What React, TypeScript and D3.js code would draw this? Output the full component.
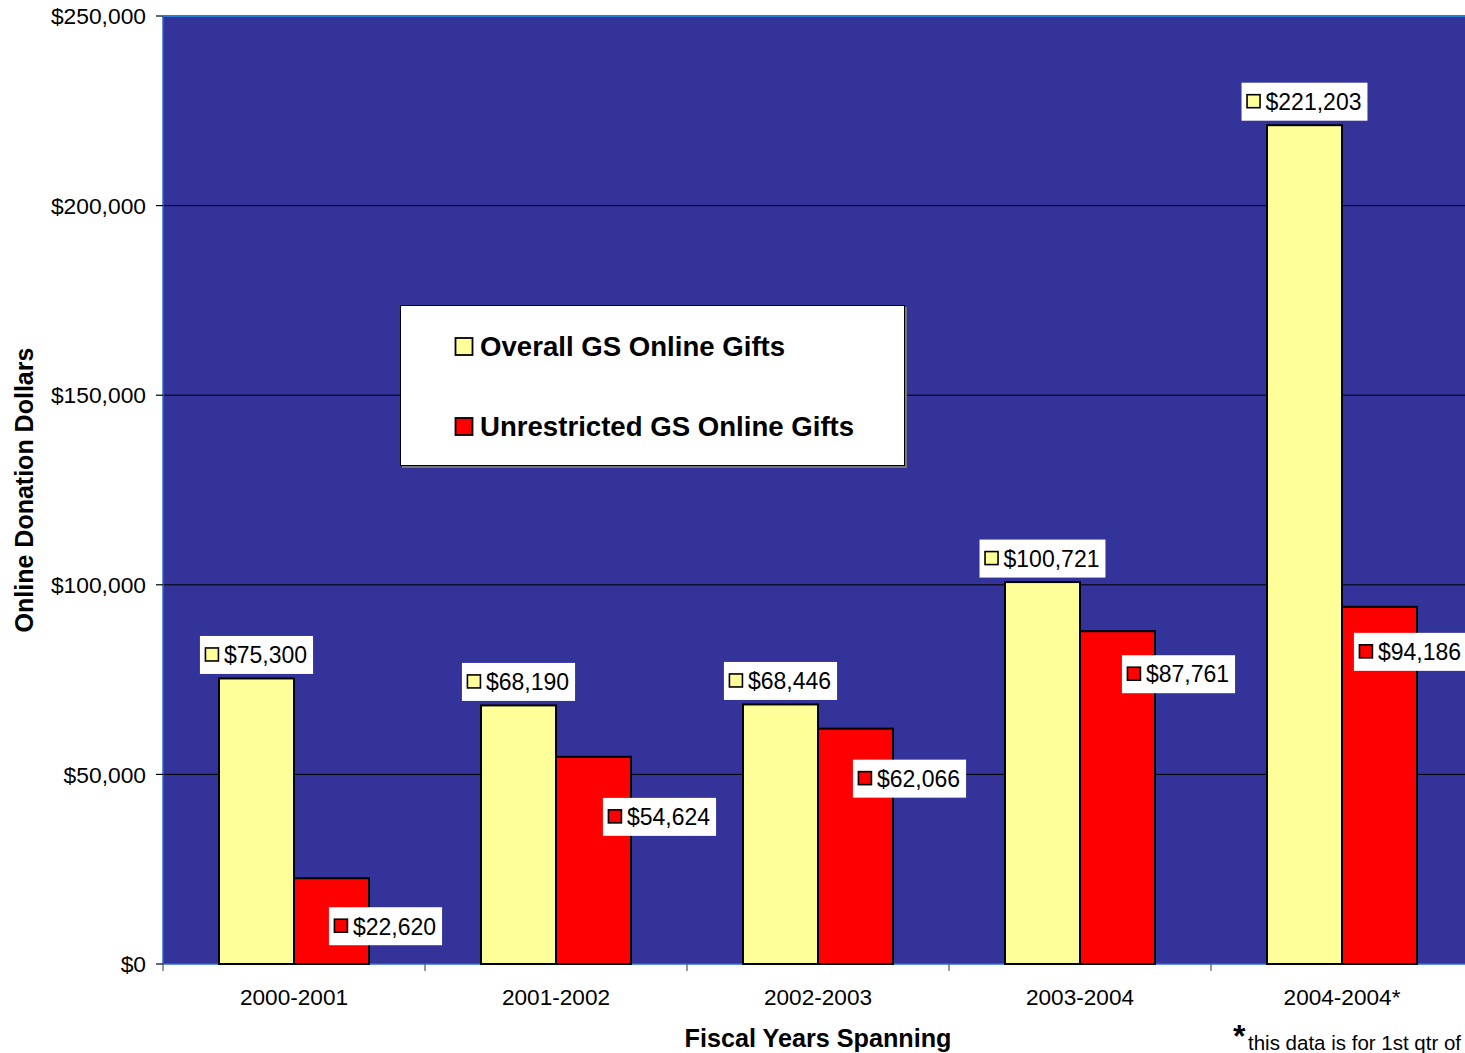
import React from "react";
import * as d3 from "d3";

const categories = ["2000-2001", "2001-2002", "2002-2003", "2003-2004", "2004-2004*"];
const overallGifts = [75300, 68190, 68446, 100721, 221203];
const unrestrictedGifts = [22620, 54624, 62066, 87761, 94186];
const seriesNames = ["Overall GS Online Gifts", "Unrestricted GS Online Gifts"];
const yTicks = [0, 50000, 100000, 150000, 200000, 250000];

// layout config (label nudges for the red series, relative to bar top-center)
const redLabelNudge: [number, number][] = [
  [54, 48],
  [66, 60],
  [54, 50],
  [61, 43],
  [31, 45],
];

const W = 1465;
const H = 1053;
const plotLeft = 163;
const plotTop = 16;
const plotBottom = 964;
const bandW = 262;
const plotRight = plotLeft + bandW * categories.length;

const YELLOW = "#FFFF99";
const RED = "#FF0000";
const BG = "#333399";
const FONT = "Liberation Sans, Arial, sans-serif";

const fmt = (v: number) => "$" + d3.format(",")(v);

function textWidth(s: string, size: number, bold = false) {
  if (typeof document === "undefined") return s.length * size * 0.55;
  const c = document.createElement("canvas").getContext("2d")!;
  c.font = `${bold ? "bold " : ""}${size}px ${FONT}`;
  return c.measureText(s).width;
}

function Label({ cx, cy, text, color }: { cx: number; cy: number; text: string; color: string }) {
  const fs = 23;
  const tw = textWidth(text, fs);
  const boxW = 5 + 14 + 5 + tw + 6;
  const boxH = 38;
  const x0 = cx - boxW / 2;
  const y0 = cy - boxH / 2;
  return (
    <g>
      <rect x={x0} y={y0} width={boxW} height={boxH} fill="#fff" />
      <rect x={x0 + 5.5} y={cy - 7} width={13} height={13} fill={color} stroke="#000" strokeWidth={1.6} />
      <text x={x0 + 24} y={cy} dy="0.36em" fontSize={fs} fontFamily={FONT} fill="#000">
        {text}
      </text>
    </g>
  );
}

export default function App() {
  const x = d3.scaleBand<string>().domain(categories).range([plotLeft, plotRight]).paddingInner(0).paddingOuter(0);
  const sub = d3
    .scaleBand<string>()
    .domain(seriesNames)
    .range([0, x.bandwidth()])
    .paddingInner(0)
    .paddingOuter((x.bandwidth() / 75 - 2) / 2);
  const y = d3.scaleLinear().domain([0, 250000]).range([plotBottom, plotTop]);

  const series = [overallGifts, unrestrictedGifts];
  const colors = [YELLOW, RED];

  return (
    <div style={{ position: "absolute", left: 0, top: 0 }}>
      <svg width={W} height={H} style={{ display: "block", background: "#fff" }}>
        {/* plot area */}
        <rect x={plotLeft} y={plotTop} width={plotRight - plotLeft} height={plotBottom - plotTop} fill={BG} />
        {/* gridlines */}
        {yTicks.slice(1, -1).map((t) => (
          <line key={t} x1={plotLeft} x2={plotRight} y1={y(t)} y2={y(t)} stroke="#000" strokeWidth={1} />
        ))}
        {/* plot border */}
        <line x1={plotLeft} x2={plotRight} y1={plotTop} y2={plotTop} stroke="#2a7ad8" strokeWidth={2} />
        <line x1={plotLeft} x2={plotLeft} y1={plotTop} y2={plotBottom} stroke="#2a6ac8" strokeWidth={1.5} />
        <line x1={plotLeft} x2={plotRight} y1={plotBottom} y2={plotBottom} stroke="#2a6ac8" strokeWidth={1.5} />

        {/* bars */}
        {categories.map((c, i) =>
          series.map((s, k) => {
            const bx = (x(c) ?? 0) + (sub(seriesNames[k]) ?? 0);
            return (
              <rect
                key={c + k}
                x={bx}
                y={y(s[i])}
                width={sub.bandwidth()}
                height={plotBottom - y(s[i])}
                fill={colors[k]}
                stroke="#000"
                strokeWidth={2}
              />
            );
          })
        )}

        {/* y axis ticks and labels */}
        {yTicks.map((t) => (
          <g key={t}>
            <line x1={plotLeft - 7} x2={plotLeft} y1={y(t)} y2={y(t)} stroke="#000" strokeWidth={1.2} />
            <text
              x={146}
              y={y(t)}
              dy="0.36em"
              textAnchor="end"
              fontSize={22.8}
              fontFamily={FONT}
              fill="#000"
            >
              {fmt(t)}
            </text>
          </g>
        ))}

        {/* x axis ticks and labels */}
        {categories.map((c) => (
          <g key={c}>
            <line
              x1={x(c) ?? 0}
              x2={x(c) ?? 0}
              y1={plotBottom}
              y2={plotBottom + 7}
              stroke="#555"
              strokeWidth={1.2}
            />
            <text
              x={(x(c) ?? 0) + x.bandwidth() / 2}
              y={1005}
              textAnchor="middle"
              fontSize={22.6}
              fontFamily={FONT}
              fill="#000"
            >
              {c}
            </text>
          </g>
        ))}

        {/* data labels */}
        {categories.map((c, i) => {
          const cxY = (x(c) ?? 0) + (sub(seriesNames[0]) ?? 0) + sub.bandwidth() / 2;
          const cxR = (x(c) ?? 0) + (sub(seriesNames[1]) ?? 0) + sub.bandwidth() / 2;
          return (
            <g key={"lbl" + c}>
              <Label cx={cxY} cy={y(overallGifts[i]) - 23.5} text={fmt(overallGifts[i])} color={YELLOW} />
              <Label
                cx={cxR + redLabelNudge[i][0]}
                cy={y(unrestrictedGifts[i]) + redLabelNudge[i][1]}
                text={fmt(unrestrictedGifts[i])}
                color={RED}
              />
            </g>
          );
        })}

        {/* legend */}
        <rect x={402} y={307} width={505} height={161} fill="#777" />
        <rect x={400.5} y={305.5} width={504} height={160} fill="#fff" stroke="#000" strokeWidth={1} />
        {seriesNames.map((n, k) => (
          <g key={n}>
            <rect
              x={455.5}
              y={338 + k * 80}
              width={17}
              height={17}
              fill={colors[k]}
              stroke="#000"
              strokeWidth={1.8}
            />
            <text
              x={480}
              y={356 + k * 80}
              fontSize={27.6}
              fontWeight="bold"
              fontFamily={FONT}
              fill="#000"
            >
              {n}
            </text>
          </g>
        ))}

        {/* axis titles */}
        <text
          transform={`translate(33, 490) rotate(-90)`}
          textAnchor="middle"
          fontSize={25}
          fontWeight="bold"
          fontFamily={FONT}
          fill="#000"
        >
          Online Donation Dollars
        </text>
        <text x={818} y={1047} textAnchor="middle" fontSize={25.2} fontWeight="bold" fontFamily={FONT} fill="#000">
          Fiscal Years Spanning
        </text>
        <text x={1233} y={1047} fontSize={32} fontWeight="bold" fontFamily={FONT} fill="#000">
          *
        </text>
        <text x={1248} y={1050} fontSize={20.5} fontFamily={FONT} fill="#000">
          this data is for 1st qtr of
        </text>
      </svg>
    </div>
  );
}
